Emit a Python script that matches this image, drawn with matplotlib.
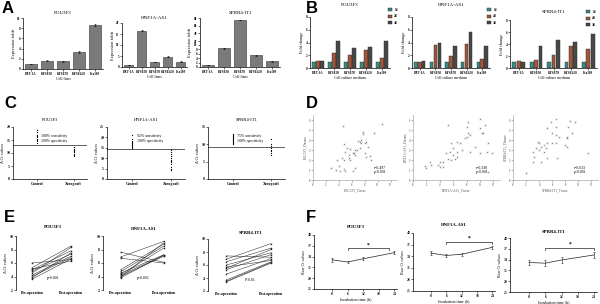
import numpy as np
import matplotlib
matplotlib.use("Agg")
import matplotlib.pyplot as plt
from matplotlib.scale import FuncScale

plt.rcParams['font.family'] = ['Liberation Serif', 'DejaVu Serif']
plt.rcParams['font.weight'] = 'bold'
plt.rcParams['axes.linewidth'] = 0.5

# ---- data ----
genes = ["POU3F3", "HNF1A-AS1", "SPRR4-IT1"]
cell_lines = ["HET-1A", "KYSE30", "KYSE70", "KYSE450", "Eca109"]

# A: expression folds in cell lines
a_pou3f3 = [1.0, 1.6, 1.5, 3.4, 8.6]
a_hnf1a = [0.9, 16.5, 2.4, 4.6, 2.4]
a_sprr4 = [0.8, 8.4, 74.0, 5.4, 2.6]
a_err = [0.05, 0.1, 0.1, 0.2, 0.15]

# B: fold change in culture medium, 1d / 2d / 3d
days = ["1d", "2d", "3d"]
b_pou3f3 = [[1, 1, 1, 1, 1], [1.05, 2.4, 2.0, 2.9, 1.6], [1.05, 4.3, 3.1, 3.3, 4.2]]
b_hnf1a = [[1, 1, 1, 1, 1], [0.9, 3.6, 1.9, 3.7, 1.35], [1.05, 3.9, 3.4, 5.6, 3.4]]
b_sprr4 = [[1, 1, 1, 1, 1], [1.1, 1.3, 2.2, 3.6, 3.1], [1.0, 3.6, 4.6, 4.3, 5.7]]

# C: delta Ct values, control vs xenograft
c_control = [[14.0, 14.5, 15.0, 15.5, 16.0, 16.5, 17.0, 18.0, 19.0],
             [14.8, 15.5, 16.0, 16.5, 17.0, 17.5, 18.0, 18.5, 19.0, 21.0],
             [10.0, 10.3, 10.6, 10.9, 11.2, 11.5, 11.8, 12.1, 12.4, 12.7, 13.0]]
c_xeno = [[8.7, 9.2, 9.7, 10.2, 10.7, 11.2, 11.7, 12.2, 12.5],
          [4.5, 5.0, 6.0, 7.0, 8.0, 8.5, 9.0, 10.0, 11.0, 12.0, 13.0, 14.0, 14.5],
          [6.8, 7.5, 8.0, 8.5, 9.0, 9.5, 10.0, 11.5]]
c_cutoff = [13.0, 14.5, 9.3]
c_ymax = [20, 25, 15]
c_text = ["100% sensitivity\n100% specificity",
          "92% sensitivity\n100% specificity",
          "75% sensitivity\n100% specificity"]

# D: plasma vs tissue correlation
d1_x = [4.6, 10.75, 7.8, 7.8, 4.75, 9.5, 7.0, 7.25, 7.5, 5.25, 5.75, 6.5, 6.15, 6.4, 6.75,
        7.25, 5.0, 5.5, 5.75, 6.5, 8.5, 8.25, 8.0, 8.25, 8.75, 8.9, 4.75, 4.5, 4.0, 2.75,
        3.5, 4.75, 4.25, 6.25, 5.0, 6.5, 3.75, 7.5, 8.0, 5.5]
d1_y = [5.4, 5.6, 4.77, 4.57, 3.57, 4.67, 3.9, 3.83, 4.0, 3.17, 3.07, 3.0, 2.73, 2.67, 3.0,
        3.17, 2.83, 2.17, 2.0, 2.5, 3.33, 3.83, 2.67, 2.33, 2.4, 2.0, 2.0, 2.17, 1.4, 1.17,
        1.0, 1.1, 0.9, 0.93, 0.93, 1.17, 2.0, 3.67, 3.67, 2.5]
d2_x = [10.0, 8.25, 10.75, 5.25, 8.0, 10.0, 10.25, 10.5, 8.25, 8.5, 8.0, 7.75, 6.5, 7.0,
        5.75, 9.25, 6.0, 11.25, 5.5, 6.5, 7.25, 6.0, 5.0, 5.75, 5.25, 6.25, 4.5, 4.0, 3.75,
        2.5, 1.75, 2.0, 4.5, 4.0, 6.5, 11.0, 11.75, 10.0, 11.25, 2.75, 8.5]
d2_y = [6.07, 5.83, 5.5, 5.5, 5.27, 5.17, 4.67, 4.67, 4.67, 4.5, 4.33, 4.17, 3.83, 3.67,
        3.73, 3.33, 3.17, 3.67, 2.83, 2.83, 3.0, 2.5, 2.67, 2.0, 2.07, 2.07, 1.83, 1.83, 1.5,
        1.83, 1.4, 1.17, 1.33, 1.33, 2.33, 2.83, 2.67, 2.67, 0.83, 1.5, 2.83]
d3_x = [6.5, 5.75, 8.75, 9.5, 8.4, 6.5, 5.25, 6.0, 6.5, 7.0, 8.25, 9.0, 3.75, 4.0, 4.25,
        4.75, 5.0, 3.5, 4.0, 5.25, 6.0, 8.25, 4.75, 3.0, 3.25, 3.0, 4.25, 5.25, 6.75, 6.5,
        8.25, 2.0, 11.5, 8.0]
d3_y = [6.1, 5.83, 5.93, 5.83, 5.33, 5.33, 5.17, 4.67, 4.5, 4.33, 4.33, 4.67, 3.83, 3.67,
        3.33, 3.5, 3.17, 3.17, 3.0, 3.67, 3.67, 3.33, 2.83, 2.83, 2.33, 1.83, 1.83, 2.17,
        2.17, 3.67, 4.17, 0.67, 2.73, 3.5]
d_stats = ["r=0.497\np<0.001", "r=0.338\np<0.001", "r=0.633\np<0.001"]

# E: pre vs post operation delta Ct
e_pre = [[6.0, 5.3, 5.1, 5.0, 4.8, 4.5, 4.2, 4.0, 3.8, 3.6],
         [7.6, 6.9, 6.7, 5.0, 4.7, 4.5, 4.3, 4.2, 4.0, 3.9, 3.8],
         [7.4, 6.9, 6.5, 6.0, 5.7, 5.5, 5.3, 4.6, 3.7, 3.5, 3.4]]
e_post = [[6.5, 8.5, 6.3, 7.8, 7.3, 8.3, 7.0, 6.8, 7.5, 6.6],
          [6.1, 9.2, 6.0, 8.8, 8.5, 7.2, 8.2, 7.1, 7.0, 9.0, 7.2],
          [7.2, 9.3, 8.6, 7.9, 6.7, 8.4, 7.6, 7.0, 6.5, 6.4, 6.3]]
e_p = ["p=0.001", "p=0.002", "P<0.01"]

# F: raw Ct over incubation time
f_time = [0, 6, 12, 24]
f_ct = [[33.1, 32.5, 33.4, 35.1], [34.8, 34.2, 34.5, 36.3], [33.2, 33.0, 33.9, 35.3]]
f_err = [[0.6, 0.4, 0.4, 0.4], [0.5, 0.4, 0.4, 0.4], [0.8, 0.8, 0.9, 0.8]]
f_bracket = [(6, 22, 36.3), (6, 24, 37.8), (6, 24, 37.2)]

W, H = 600, 304
fig = plt.figure(figsize=(6, 3.04), dpi=100)


def box(x0, y0, x1, y1):
    return [x0 / W, 1 - y1 / H, (x1 - x0) / W, (y1 - y0) / H]


def style(ax, fs=2.6):
    ax.spines['top'].set_visible(False)
    ax.spines['right'].set_visible(False)
    ax.tick_params(labelsize=fs, length=1.2, width=0.4, pad=0.8)


for letter, (x, y) in zip("ABCDEF", [(2, 1), (306, 1), (4, 96), (306, 96), (4, 210), (306, 210)]):
    fig.text(x / W, 1 - y / H, letter, fontsize=12, fontweight='bold', family='Liberation Sans',
             va='top', ha='left')

# ---- A ----
a_boxes = [box(23, 18, 103, 69), box(122, 23, 187, 67), box(200, 18, 280, 67)]
a_vals = [a_pou3f3, a_hnf1a, a_sprr4]
for i, (b, vals) in enumerate(zip(a_boxes, a_vals)):
    ax = fig.add_axes(b)
    if i == 2:
        ax.set_yscale(FuncScale(ax, (lambda v: np.where(v <= 10, v * 0.045, 0.45 + (v - 10) / 70 * 0.55),
                                     lambda t: np.where(t <= 0.45, t / 0.045, 10 + (t - 0.45) / 0.55 * 70))))
        ax.set_ylim(0, 80)
        ax.set_yticks([0, 2, 4, 6, 8, 10, 20, 40, 60, 80])
    elif i == 0:
        ax.set_ylim(0, 10)
        ax.set_yticks([0, 2, 4, 6, 8, 10])
    else:
        ax.set_ylim(0, 20)
        ax.set_yticks([0, 5, 10, 15, 20])
    ax.bar(range(5), vals, width=0.7, color='#7a7a7a', edgecolor='#333333', linewidth=0.4,
           yerr=a_err, error_kw=dict(elinewidth=0.4, capsize=0.8, capthick=0.4))
    ax.set_xlim(-0.5, 4.5)
    ax.set_xticks(range(5))
    ax.set_xticklabels(cell_lines)
    style(ax, 2.3)
    ax.set_title(genes[i], fontsize=3.6, pad=3)
    ax.set_xlabel("Cell lines", fontsize=2.8, labelpad=1)
    ax.set_ylabel("Expression folds", fontsize=3.2, labelpad=1)

# ---- B ----
b_boxes = [box(310, 17, 390, 68), box(412, 17, 490, 68), box(510, 20, 597, 68)]
b_legend = [(386, 6), (485, 6), (584, 8)]
b_vals = [b_pou3f3, b_hnf1a, b_sprr4]
b_colors = ['#3b8b8b', '#a0573a', '#484848']
for i, (b, vals) in enumerate(zip(b_boxes, b_vals)):
    ax = fig.add_axes(b)
    x = np.arange(5)
    for k in range(3):
        ax.bar(x + (k - 1) * 0.25, vals[k], width=0.22, color=b_colors[k], edgecolor='#222222',
               linewidth=0.3, label=days[k])
    ax.set_ylim(0, 8)
    ax.set_yticks([0, 2, 4, 6, 8])
    ax.set_xlim(-0.5, 4.5)
    ax.set_xticks(x)
    ax.set_xticklabels(cell_lines)
    style(ax, 2.3)
    ax.set_title(genes[i], fontsize=3.6, pad=8 if i < 2 else 5)
    ax.set_xlabel("Cell culture medium", fontsize=2.8, labelpad=1)
    ax.set_ylabel("Fold change", fontsize=3.2, labelpad=1)
    lx, ly = b_legend[i]
    ax.legend(loc='upper left', bbox_to_anchor=(lx / W, 1 - ly / H), bbox_transform=fig.transFigure,
              fontsize=2.4, frameon=False, handlelength=1.4, handleheight=1.0, labelspacing=0.8,
              borderpad=0, handletextpad=0.6)

# ---- C ----
c_boxes = [box(13, 127, 87, 179), box(107, 127, 185, 179), box(208, 127, 285, 179)]
for i, b in enumerate(c_boxes):
    ax = fig.add_axes(b)
    ax.plot([0] * len(c_control[i]), c_control[i], 'o', color='black', ms=0.9, mew=0)
    ax.plot([1] * len(c_xeno[i]), c_xeno[i], 'o', color='black', ms=0.9, mew=0)
    ax.axhline(c_cutoff[i], color='#444444', lw=0.6)
    ax.set_xlim(-0.64, 1.36)
    ax.set_ylim(0, c_ymax[i])
    ax.set_yticks(range(0, c_ymax[i] + 1, 5))
    ax.set_xticks([0, 1])
    ax.set_xticklabels(["Control", "Xenograft"])
    style(ax, 2.8)
    ax.set_title(genes[i], fontsize=3.3, pad=4)
    ax.set_ylabel("Δ Ct values", fontsize=3.2, labelpad=1, family=['Liberation Serif', 'DejaVu Sans'])
    ax.text(0.38, 0.86, c_text[i], transform=ax.transAxes, fontsize=2.8, va='top', fontweight='normal')

# ---- D ----
d_boxes = [box(313, 115, 397, 180), box(413, 115, 500, 180), box(513, 115, 598, 180)]
d_x = [d1_x, d2_x, d3_x]
d_y = [d1_y, d2_y, d3_y]
for i, b in enumerate(d_boxes):
    ax = fig.add_axes(b)
    ax.scatter(d_x[i], d_y[i], s=1.2, marker='x', color='#8a8a8a', linewidths=0.4)
    ax.set_xlim(0, 13)
    ax.set_ylim(0, 6.5)
    ax.set_xticks(range(0, 14, 2))
    ax.set_yticks(range(0, 7))
    style(ax, 2.0)
    for s in ['left', 'bottom']:
        ax.spines[s].set_color('#aaaaaa')
    ax.tick_params(colors='#777777')
    ax.set_xlabel(genes[i] + "_Tissue", fontsize=2.4, labelpad=1, color='#555555', fontweight='normal')
    ax.set_ylabel(genes[i] + "_Plasma", fontsize=2.4, labelpad=1, color='#555555', fontweight='normal')
    ax.text(0.72, 0.22, d_stats[i], transform=ax.transAxes, fontsize=2.8, va='top', fontweight='normal')

# ---- E ----
e_boxes = [box(16, 236, 83, 290), box(103, 236, 177, 290), box(208, 239, 285, 291)]
e_titles_y = [227, 229, 233]
for i, b in enumerate(e_boxes):
    ax = fig.add_axes(b)
    for pre, post in zip(e_pre[i], e_post[i]):
        ax.plot([0, 1], [pre, post], '-s', color='#222222', lw=0.35, ms=1.0, mew=0)
    ax.set_xlim(-0.41, 1.31)
    ax.set_ylim(2, 10)
    ax.set_yticks([2, 4, 6, 8, 10])
    ax.set_xticks([0, 1])
    ax.set_xticklabels(["Pre-operation", "Post-operation"])
    ax.spines['bottom'].set_visible(False)
    style(ax, 2.8)
    ax.tick_params(axis='x', length=0)
    ax.spines['bottom'].set_visible(False)
    ax.set_ylabel("Δ Ct values", fontsize=3.2, labelpad=1, family=['Liberation Serif', 'DejaVu Sans'])
    fig.text((b[0] + b[2] * 0.55), 1 - e_titles_y[i] / H, genes[i], fontsize=3.4, ha='center', va='center')
    ax.text(0.55, 0.2, e_p[i], transform=ax.transAxes, fontsize=2.8, ha='center', fontweight='normal')

# ---- F ----
f_boxes = [box(314, 235, 397, 289), box(413, 233, 495, 291), box(510, 238, 597, 292)]
f_titles_y = [227, 225, 232]
for i, b in enumerate(f_boxes):
    ax = fig.add_axes(b)
    ax.errorbar(f_time, f_ct[i], yerr=f_err[i], fmt='-', color='#222222', lw=0.5,
                elinewidth=0.4, capsize=1.0, capthick=0.4)
    x0, x1, yb = f_bracket[i]
    ax.plot([x0, x0, x1, x1], [yb - 0.6, yb, yb, yb - 0.6], color='#222222', lw=0.5)
    ax.text((x0 + x1) / 2, yb + 0.3, "*", fontsize=4, ha='center', va='bottom')
    ax.set_xlim(-7, 25)
    ax.set_ylim(25, 40)
    ax.set_xticks([0, 6, 12, 18, 24])
    ax.set_yticks([25, 28, 31, 34, 37, 40])
    style(ax, 2.6)
    ax.set_xlabel("Incubation time (h)", fontsize=3.0, labelpad=1)
    ax.set_ylabel("Raw Ct values", fontsize=3.0, labelpad=1)
    fig.text((b[0] + b[2] * 0.5), 1 - f_titles_y[i] / H, genes[i], fontsize=3.4, ha='center', va='center')

fig.savefig("out.png", dpi=100, facecolor='white')
